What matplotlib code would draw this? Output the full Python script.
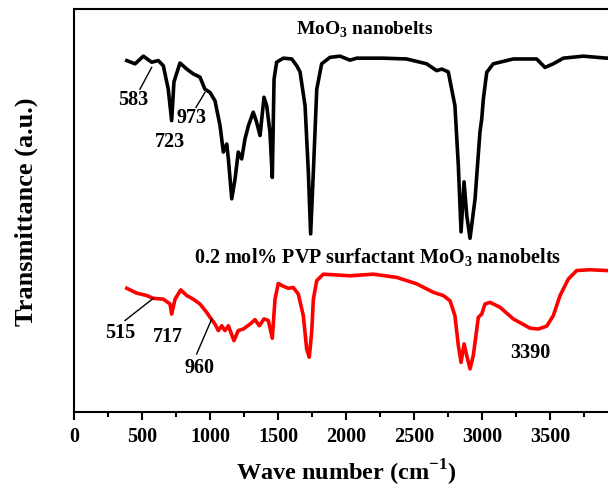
import matplotlib
matplotlib.use("Agg")
import matplotlib.pyplot as plt
from matplotlib.ticker import MultipleLocator, FixedLocator

plt.rcParams['font.family'] = ['Liberation Serif', 'DejaVu Serif']
plt.rcParams['font.weight'] = 'bold'
plt.rcParams['mathtext.fontset'] = 'custom'
plt.rcParams['mathtext.rm'] = 'Liberation Serif:bold'
plt.rcParams['mathtext.bf'] = 'Liberation Serif:bold'

# MoO3 nanobelts (black)
wn_moo3 = [388, 449, 510, 571, 620, 657, 693, 718, 735, 779, 829, 877, 926, 963,
           1000, 1037, 1074, 1098, 1123, 1135, 1160, 1184, 1208, 1233, 1257, 1282,
           1318, 1343, 1368, 1397, 1417, 1441, 1458, 1471, 1490, 1539, 1601, 1638,
           1662, 1699, 1723, 1740, 1760, 1785, 1821, 1882, 1956, 2029, 2079, 2274,
           2446, 2593, 2667, 2704, 2752, 2801, 2826, 2846, 2868, 2888, 2912, 2949,
           2985, 2998, 3010, 3035, 3083, 3230, 3402, 3463, 3524, 3598, 3745, 3917, 3990]
t_moo3 = [87.2, 86.4, 88.3, 86.8, 87.2, 85.9, 80.1, 72.3, 81.9, 86.6, 85.1, 83.9, 83.1, 80.1,
          79.3, 77.2, 71.0, 64.5, 66.5, 62.8, 52.9, 57.8, 64.5, 62.8, 67.7, 71.0,
          74.4, 71.9, 68.6, 78.1, 76.0, 69.4, 58.2, 82.6, 86.8, 87.8, 87.6, 85.9,
          84.4, 76.0, 59.6, 44.2, 59.6, 80.1, 86.4, 88.0, 88.3, 87.3, 87.8, 87.8,
          87.6, 86.4, 84.7, 85.1, 84.4, 76.0, 61.1, 44.7, 57.1, 48.7, 43.1, 52.9,
          69.5, 72.7, 77.7, 84.3, 86.4, 87.6, 87.6, 85.5, 86.4, 87.8, 88.3, 87.8, 88.0]

# 0.2 mol% PVP surfactant MoO3 nanobelts (red)
wn_pvp = [388, 461, 535, 583, 657, 706, 718, 743, 785, 829, 877, 926, 976, 1000,
          1037, 1061, 1086, 1110, 1135, 1176, 1208, 1245, 1294, 1331, 1363, 1397,
          1429, 1458, 1478, 1502, 1539, 1576, 1612, 1649, 1686, 1711, 1730, 1748,
          1760, 1785, 1833, 2029, 2201, 2373, 2520, 2642, 2715, 2765, 2801, 2826,
          2846, 2868, 2888, 2912, 2936, 2973, 2998, 3022, 3059, 3132, 3230, 3353,
          3414, 3476, 3524, 3574, 3635, 3696, 3794, 3917, 3990]
t_pvp = [30.7, 29.5, 28.9, 28.2, 28.0, 26.8, 24.3, 28.0, 30.3, 28.9, 28.0, 26.8, 24.7, 23.5,
         21.8, 20.2, 21.4, 20.2, 21.4, 17.7, 20.2, 20.6, 21.8, 22.9, 21.4, 23.1,
         22.7, 18.3, 28.0, 31.9, 31.2, 30.7, 30.9, 29.3, 23.9, 15.6, 13.6, 19.9,
         28.0, 32.6, 34.2, 33.8, 34.2, 33.4, 31.8, 29.7, 28.9, 27.6, 23.9, 16.5,
         12.3, 16.9, 14.0, 10.7, 14.0, 23.5, 24.3, 26.8, 27.2, 26.0, 23.1, 20.8,
         20.6, 21.3, 23.9, 28.9, 33.0, 35.1, 35.3, 35.1, 35.0]

x_ticks = [0, 500, 1000, 1500, 2000, 2500, 3000, 3500]

fig = plt.figure(figsize=(6.08, 4.89), dpi=100)
# axes runs past the right edge of the picture, as in the original crop
ax = fig.add_axes([74 / 608, 76 / 489, 544 / 608, 403 / 489])

ax.plot(wn_moo3, t_moo3, color='black', lw=2.6)
ax.plot(wn_pvp, t_pvp, color='red', lw=2.6)

ax.set_xlim(0, 4000)
ax.set_ylim(0, 100)
ax.xaxis.set_major_locator(FixedLocator(x_ticks))
ax.xaxis.set_minor_locator(MultipleLocator(250))
ax.set_yticks([])
ax.tick_params(axis='x', which='major', direction='out', length=6, width=1.5,
               labelsize=14.5, pad=4)
ax.tick_params(axis='x', which='minor', direction='out', length=3.5, width=1.5)
for s in ax.spines.values():
    s.set_linewidth(1.5)

ax.set_xlabel('Wave number (cm$^{-1}$)', fontsize=17.5, fontweight='bold', labelpad=8)
ax.set_ylabel('Transmittance (a.u.)', fontsize=19, fontweight='bold', labelpad=26)

fs = 14.5
ax.text(2140, 95, 'MoO$_3$ nanobelts', fontsize=14, ha='center', va='center')
ax.text(2235, 38.5, '0.2 mol% PVP surfactant MoO$_3$ nanobelts', fontsize=14.5,
        ha='center', va='center')

ax.text(434, 77.7, '583', fontsize=fs, ha='center', va='center')
ax.plot([485, 571], [80.1, 85.5], color='black', lw=1)
ax.text(706, 67.3, '723', fontsize=fs, ha='center', va='center')
ax.text(865, 73.1, '973', fontsize=fs, ha='center', va='center')
ax.plot([897, 963], [75.6, 79.3], color='black', lw=1)

ax.text(338, 19.9, '515', fontsize=fs, ha='center', va='center')
ax.plot([375, 583], [22.7, 28.2], color='black', lw=1)
ax.text(693, 18.9, '717', fontsize=fs, ha='center', va='center')
ax.text(926, 11.1, '960', fontsize=fs, ha='center', va='center')
ax.plot([902, 1013], [14.4, 23.1], color='black', lw=1)
ax.text(3353, 14.8, '3390', fontsize=fs, ha='center', va='center')

fig.savefig('out.png', dpi=100)
